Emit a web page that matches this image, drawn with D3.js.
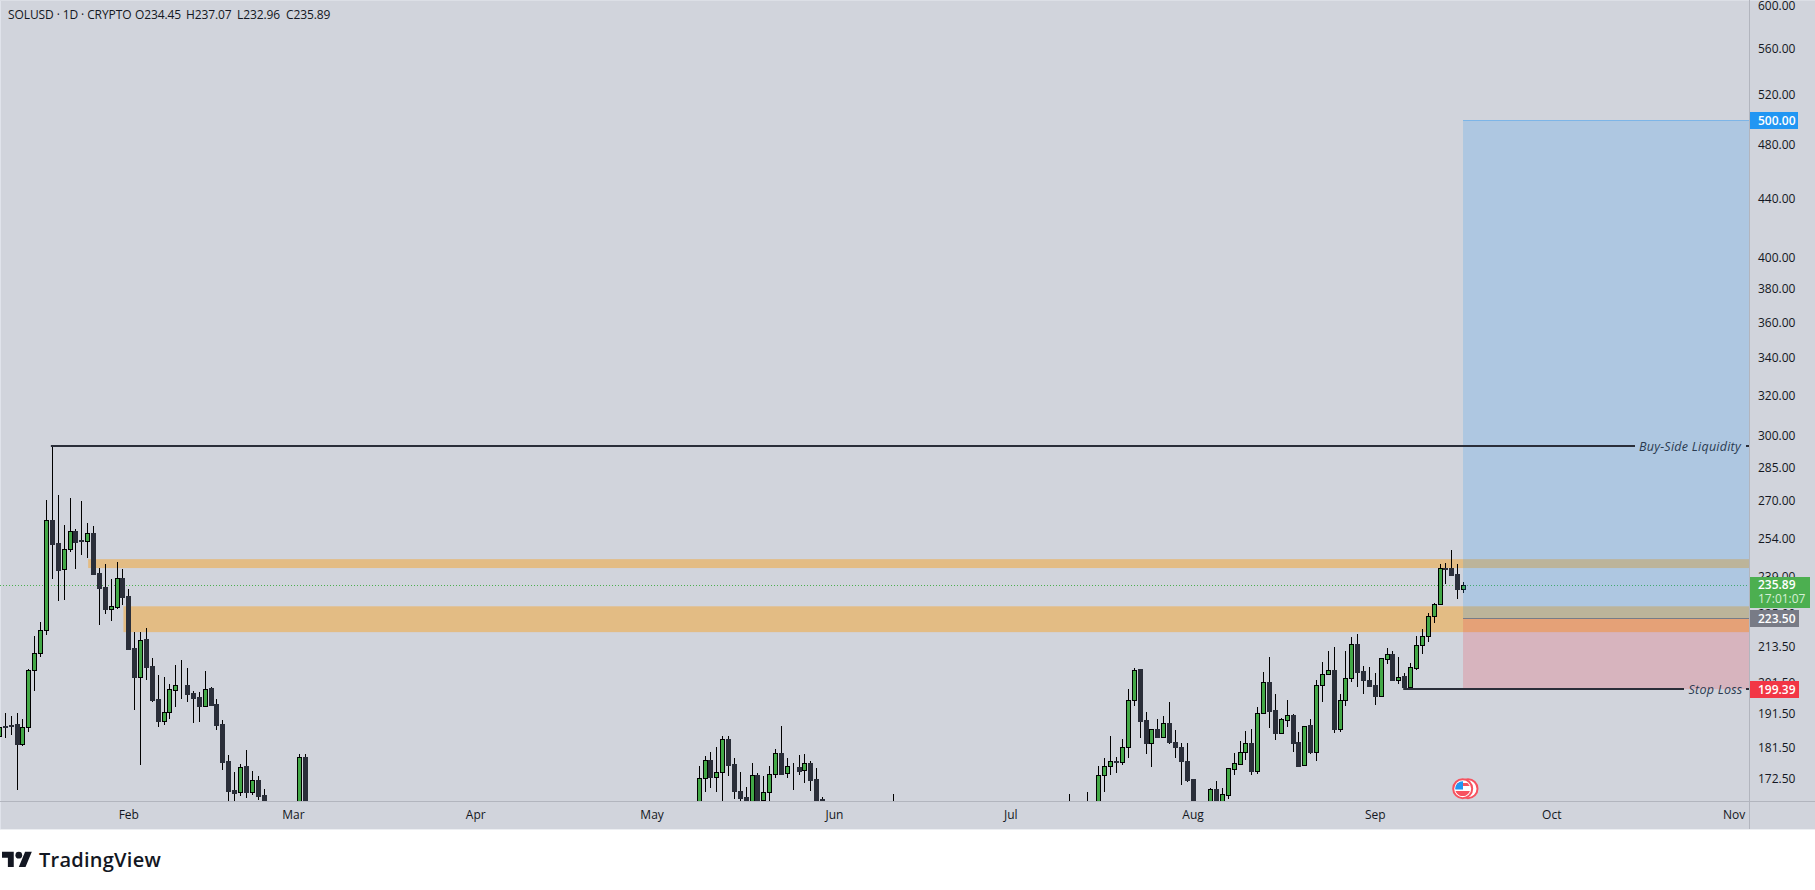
<!DOCTYPE html>
<html><head><meta charset="utf-8">
<script src="https://cdn.jsdelivr.net/npm/d3@7"></script>
<style>
html,body{margin:0;padding:0;background:#fff;overflow:hidden}
svg{display:block}
text{font-family:"Open Sans",sans-serif}
</style></head><body><svg id="c" width="1815" height="890"></svg>
<script>
// day number counted from 1 Feb
const days=[-22,-21,-20,-19,-18,-17,-16,-15,-14,-13,-12,-11,-10,-9,-8,-7,-6,-5,-4,-3,-2,-1,0,1,2,3,4,5,6,7,8,9,10,11,12,13,14,15,16,17,18,19,20,21,22,23,
29,30,
97,98,99,100,101,102,103,104,105,106,107,108,109,110,111,112,113,114,115,116,117,118,
130,160,163,
165,166,167,168,169,170,171,172,173,174,175,176,177,178,179,180,181,
184,185,186,187,188,189,190,191,192,193,194,195,196,197,198,199,200,201,202,203,204,205,206,207,208,209,210,211,212,213,214,215,216,217,218,219,220,221,222,223,224,225,226,227];
const opens=[185.0,188.0,188.2,188.4,182.6,187.5,205.8,211.2,219.5,261.9,252.3,241.9,249.8,257.3,253.5,253.4,256.4,240.4,235.0,227.0,227.7,238.5,231.7,213.1,203.4,216.1,206.9,196.2,189.5,192.1,199.2,200.7,200.7,198.1,196.8,194.1,199.7,194.6,188.5,177.5,169.5,168.8,176.1,169.0,172.2,168.1,
160,178.7,
162,172.9,178.0,173.1,174.4,183.9,176.7,169.2,167.5,162,173.5,166.7,168.9,173.8,179.9,174.1,176.2,175.8,174.9,176.9,172.5,166.9,
164,164,164,
163,173.7,176.1,177.5,177.2,181.6,195.8,205.9,189.7,182.9,187.0,184.7,188.7,183.0,181.6,177.7,172.4,
162,169.7,162,168.2,175.3,176.7,180.1,182.8,174.8,191.8,201.6,192.7,185.9,189.8,191.1,183.0,176.4,188.1,180.3,200.6,204.2,205.8,187.1,195.8,202.9,214.3,205.2,202.5,200.6,197.3,209.4,210.9,202.4,203.6,200.2,206.4,214.0,217.2,224.2,228.6,242.3,242.3,239.9,234.45];
const highs=[190.0,191.8,190.9,191.8,189.9,205.9,217.2,222.1,270.5,295.1,272.7,259.8,271.4,258.0,270.1,260.6,259.6,242.3,244.0,238.1,244.7,242.0,234.3,218.6,218.6,219.9,209.7,203.9,203.4,201.0,207.3,209.0,206.3,198.9,198.5,205.3,200.2,196.2,189.7,179.3,174.4,176.6,180.8,174.7,173.3,169.8,
179.5,179.5,
176.1,179.0,180.2,181.7,184.9,184.9,178.4,174.4,170.3,176.9,174.1,173.3,176.1,181.0,187.9,178.4,176.9,179.3,179.6,177.5,175.6,167.5,
168.4,168.4,168.9,
176.2,178.3,184.9,178.6,183.9,199.4,206.3,206.0,192.2,187.0,190.0,190.9,195.3,186.7,182.7,182.8,172.5,
170.0,171.9,170.0,175.6,179.8,183.3,186.4,187.0,193.6,204.9,209.9,198.0,190.2,195.8,191.5,186.1,188.0,189.9,202.2,208.3,212.0,213.3,198.0,212.0,216.9,218.0,207.0,206.6,204.5,209.7,213.1,212.0,210.0,204.5,208.0,217.2,219.7,225.6,229.1,244.0,244.4,249.5,244.0,237.07];
const lows=[183.0,184.4,185.2,169.5,182.0,186.2,198.9,210.1,217.5,238.2,229.9,230.2,248.8,242.1,247.5,246.3,240.2,221.2,225.1,222.6,227.0,228.4,212.8,192.8,176.4,202.3,195.4,187.7,188.2,190.0,193.8,196.2,195.4,188.9,189.2,194.0,194.2,186.7,175.0,164,165,167.8,167.3,168.1,166.7,160,
155,155,
160,169.0,169.9,168.8,166.5,173.3,167.0,166.5,160,160,162,163,164,172.8,173.6,172.8,169.5,173.6,171.5,169.3,162,160,
160,160,160,
160,169.0,173.6,174.2,176.5,178.4,194.1,184.4,179.7,175.9,184.6,184.6,182.6,178.5,170.9,171.7,160,
160,160,160,167.0,173.7,176.7,177.8,173.7,174.0,191.7,187.3,183.8,185.6,187.7,180.1,175.9,176.3,179.7,177.6,195.4,204.1,185.9,186.0,194.1,201.7,200.2,197.9,200.4,194.4,197.0,207.7,202.1,201.1,199.5,200.1,205.7,211.1,215.2,221.9,228.5,236.1,239.7,230.5,232.96];
const closes=[187.7,187.7,188.0,182.6,187.5,205.8,211.3,219.5,261.8,252.0,241.7,249.8,257.2,252.8,253.2,256.3,240.2,234.8,227.0,227.9,238.4,231.4,212.8,203.4,216.0,206.7,195.9,189.4,192.1,199.3,200.6,200.6,197.9,196.5,194.0,199.6,194.4,188.2,177.3,169.2,168.7,176.0,169.0,172.1,167.9,162,
178.6,160,
172.9,178.0,173.1,174.4,183.9,176.5,169.3,167.2,163,173.5,166.7,168.9,173.8,179.8,173.8,176.1,176.1,174.8,176.9,172.3,166.7,163,
163,163,163,
173.7,176.1,177.5,177.3,181.6,195.8,205.8,189.5,182.9,186.9,184.7,188.7,183.2,181.5,177.6,172.2,162,
169.7,162,168.3,175.5,176.9,180.1,182.7,174.8,191.8,201.6,192.6,185.9,189.9,191.1,182.9,176.2,187.9,180.3,200.6,204.2,205.8,187.1,195.8,202.9,214.3,205.0,202.4,200.5,197.3,209.6,210.9,202.3,203.5,200.2,206.5,214.0,217.2,224.2,228.6,242.3,242.1,239.8,234.3,235.89];

const monthLabels=["Feb","Mar","Apr","May","Jun","Jul","Aug","Sep","Oct","Nov"];
const monthDays=[0,28,59,89,120,150,181,212,242,273];
const priceTicks=[600,560,520,480,440,400,380,360,340,320,300,285,270,254,239,225,213.5,201.5,191.5,181.5,172.5];

const lastPrice=235.89, entry=223.5, target=500, stop=199.39, buySide=295.1;
const zoneUpper=[242.4,245.9], zoneLower=[218.6,227.9];
const zoneUpperStart=-7, zoneLowerStart=-1;
const swingHighDay=-13, swingLowDay=217, positionStartDay=227;
const header=[["SOLUSD · 1D · CRYPTO",8],["O234.45",135],["H237.07",186],["L232.96",237],["C235.89",286]];

const W=1815, plotR=1749, plotB=802, axisB=829;
const x=d3.scaleLinear().domain([0,273]).range([128.3,1733.5]);
const y=d3.scaleLog().domain([600,172.5]).range([6,779]);

const BG="#d1d4dc", UP="#43a847", DOWN="#2a2e39", INK="#131722", LINE="#2a2e39";
const svg=d3.select("#c");
const defs=svg.append("defs");
defs.append("clipPath").attr("id","plot").append("rect").attr("x",0).attr("y",0).attr("width",plotR).attr("height",plotB);
defs.append("clipPath").attr("id","flag").append("circle").attr("cx",1462.7).attr("cy",788.7).attr("r",7.5);

svg.append("rect").attr("width",W).attr("height",axisB).attr("fill",BG);
svg.append("rect").attr("y",829).attr("width",W).attr("height",1).attr("fill","#eceef2");
svg.append("rect").attr("width",1).attr("height",829).attr("fill","#e0e3eb");
svg.append("rect").attr("width",W).attr("height",1).attr("fill","#dcdfe6");

const plot=svg.append("g").attr("clip-path","url(#plot)");

// supply / demand zones
const zones=[[zoneUpper,zoneUpperStart],[zoneLower,zoneLowerStart]];
plot.selectAll("rect.z").data(zones).join("rect").attr("class","z")
 .attr("x",d=>x(d[1])+1).attr("width",d=>plotR-x(d[1]))
 .attr("y",d=>y(d[0][1])).attr("height",d=>y(d[0][0])-y(d[0][1]))
 .attr("fill","#ff9800").attr("fill-opacity",.4);

// last price dotted line
plot.append("line").attr("x1",0).attr("x2",plotR)
 .attr("y1",Math.round(y(lastPrice))+.5).attr("y2",Math.round(y(lastPrice))+.5)
 .attr("stroke","#4caf50").attr("stroke-width",1).attr("stroke-dasharray","1 2");

// candles
const candles=days.map((d,i)=>({d,o:opens[i],h:highs[i],l:lows[i],c:closes[i]}));
const g=plot.selectAll("g.k").data(candles).join("g").attr("class","k");
g.append("line")
 .attr("x1",d=>Math.round(x(d.d))+.5).attr("x2",d=>Math.round(x(d.d))+.5)
 .attr("y1",d=>Math.round(y(d.h))).attr("y2",d=>Math.round(y(d.l)))
 .attr("stroke","#000").attr("stroke-width",1);
g.append("rect")
 .attr("x",d=>Math.round(x(d.d))-1.5).attr("width",4)
 .attr("y",d=>Math.round(y(Math.max(d.o,d.c)))+.5)
 .attr("height",d=>Math.max(0,Math.round(y(Math.min(d.o,d.c)))-Math.round(y(Math.max(d.o,d.c)))))
 .attr("fill",d=>d.c>=d.o?UP:DOWN)
 .attr("stroke",d=>d.c>=d.o?"#000":DOWN).attr("stroke-width",1);

// long position box
const px=x(positionStartDay);
const topY=Math.round(y(target))+1;
plot.append("rect").attr("x",px).attr("width",plotR-px).attr("y",topY).attr("height",y(entry)-topY).attr("fill","#2196f3").attr("fill-opacity",.2);
plot.append("rect").attr("x",px).attr("width",plotR-px).attr("y",y(entry)).attr("height",y(stop)-y(entry)).attr("fill","#f23645").attr("fill-opacity",.2);
plot.append("line").attr("x1",px).attr("x2",plotR).attr("y1",topY+.5).attr("y2",topY+.5).attr("stroke","#2196f3").attr("stroke-opacity",.35);
plot.append("line").attr("x1",px).attr("x2",plotR).attr("y1",Math.round(y(entry))+.5).attr("y2",Math.round(y(entry))+.5).attr("stroke","#787b86");

// liquidity / stop lines with labels
function level(p,startDay,endX,label,labelX){
  const yy=Math.round(y(p));
  plot.append("line").attr("x1",x(startDay)-1).attr("x2",endX).attr("y1",yy).attr("y2",yy).attr("stroke",LINE).attr("stroke-width",2);
  plot.append("line").attr("x1",1746).attr("x2",plotR).attr("y1",yy).attr("y2",yy).attr("stroke",LINE).attr("stroke-width",2);
  plot.append("text").attr("x",labelX).attr("y",yy+4.5).attr("font-size",12.5).attr("font-style","italic").attr("letter-spacing",".25")
    .attr("fill","#2a3a50").text(label);
}
level(buySide,swingHighDay,1635,"Buy-Side Liquidity",1639);
level(stop,swingLowDay,1684,"Stop Loss",1688.5);

// event flags
const fl=plot.append("g");
fl.append("circle").attr("cx",1468).attr("cy",788.7).attr("r",9.5).attr("fill","#fff").attr("stroke","#f7525f").attr("stroke-width",2);
fl.append("circle").attr("cx",1462.7).attr("cy",788.7).attr("r",9.5).attr("fill","#fff").attr("stroke","#f7525f").attr("stroke-width",2);
const f=fl.append("g").attr("clip-path","url(#flag)");
f.append("rect").attr("x",1455).attr("y",786).attr("width",16).attr("height",3.5).attr("fill","#fff");
f.append("rect").attr("x",1455).attr("y",783).attr("width",16).attr("height",3).attr("fill","#f7525f");
f.append("rect").attr("x",1455).attr("y",791).attr("width",16).attr("height",5).attr("fill","#f7525f");
f.append("rect").attr("x",1455).attr("y",781).attr("width",8).attr("height",8.5).attr("fill","#2196f3");

// axes
svg.append("rect").attr("x",plotR).attr("y",0).attr("width",1).attr("height",axisB).attr("fill","#b2b5be");
svg.append("rect").attr("x",0).attr("y",plotB-1).attr("width",W).attr("height",1).attr("fill","#b2b5be");

const yAxis=d3.axisRight(y).tickValues(priceTicks).tickFormat(d3.format(".2f")).tickSize(0).tickPadding(0);
const ya=svg.append("g").attr("transform","translate(1758,-0.5)").call(yAxis);
ya.select(".domain").remove();
ya.selectAll("text").attr("font-family",'"Open Sans",sans-serif').attr("font-size",12).attr("fill",INK).attr("dy",".35em");

const xAxis=d3.axisBottom(x).tickValues(monthDays).tickFormat((d,i)=>monthLabels[i]).tickSize(0).tickPadding(0);
const xa=svg.append("g").attr("transform","translate(0,810)").call(xAxis);
xa.select(".domain").remove();
xa.selectAll("text").attr("font-family",'"Open Sans",sans-serif').attr("font-size",12).attr("font-weight",500).attr("fill",INK).attr("dy",".71em");

// price tags
function tag(p,x1,y0,h,fill,lines){
  svg.append("rect").attr("x",1750).attr("y",y0).attr("width",x1-1750).attr("height",h).attr("fill",fill);
  lines.forEach(l=>svg.append("text").attr("x",1758).attr("y",l[1]).attr("font-size",12).attr("font-weight",l[3]||600)
    .attr("fill",l[2]||"#fff").text(l[0]));
}
tag(lastPrice,1810,577,31,"#4caf50",[[lastPrice.toFixed(2),589],["17:01:07",603,"#d6efd6",400]]);
tag(entry,1799,610,17,"#787b86",[[entry.toFixed(2),623]]);
tag(stop,1799,681,17,"#f23645",[[stop.toFixed(2),694]]);
tag(target,1798,112,17,"#2196f3",[[target.toFixed(2),125]]);

// header
svg.selectAll("text.h").data(header).join("text").attr("class","h")
 .attr("x",d=>d[1]).attr("y",19).attr("font-family","Roboto,sans-serif").attr("font-size",12).attr("letter-spacing","-.1").attr("fill",INK).text(d=>d[0]);

// brand
const b=svg.append("g").attr("transform","translate(2,848.5) scale(.84)").attr("fill","#131722");
b.append("path").attr("d","M14 22H7V11H0V4h14v18zM28 22h-8l7.5-18h8L28 22z");
b.append("circle").attr("cx",20).attr("cy",8).attr("r",4);
svg.append("text").attr("x",39).attr("y",867).attr("font-family","Inter,Roboto,sans-serif").attr("font-size",20).attr("font-weight",600).attr("fill","#131722").attr("letter-spacing",".25").text("TradingView");
</script></body></html>
